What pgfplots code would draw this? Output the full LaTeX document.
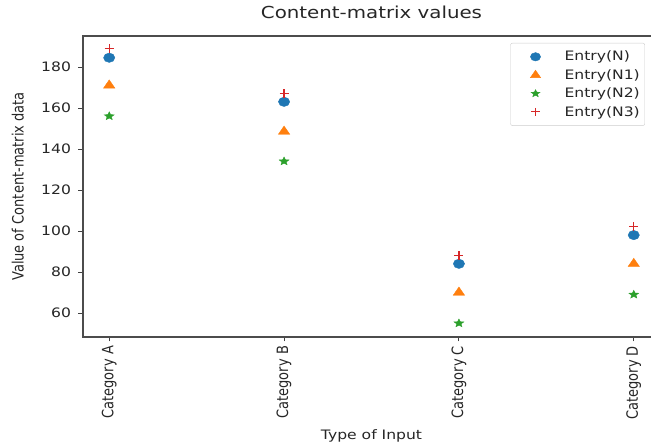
\documentclass[border=0pt]{standalone}
\usepackage{pgfplots}
\pgfplotsset{compat=1.18}
\usepackage{graphicx}
\usepackage{fontspec}
\setmainfont{DejaVu Sans}
\definecolor{tabblue}{HTML}{1F77B4}
\definecolor{taborange}{HTML}{FF7F0E}
\definecolor{tabgreen}{HTML}{2CA02C}
\definecolor{tabred}{HTML}{D62728}
\newcommand\wide[1]{\scalebox{1.2}[1]{#1}}
\newcommand\tall[1]{\scalebox{1}[1.2]{#1}}
\pgfdeclareplotmark{fstar}{%
  \pgfpathmoveto{\pgfpointpolar{90}{\pgfplotmarksize}}%
  \pgfpathlineto{\pgfpointpolar{126}{0.45\pgfplotmarksize}}%
  \pgfpathlineto{\pgfpointpolar{162}{\pgfplotmarksize}}%
  \pgfpathlineto{\pgfpointpolar{198}{0.45\pgfplotmarksize}}%
  \pgfpathlineto{\pgfpointpolar{234}{\pgfplotmarksize}}%
  \pgfpathlineto{\pgfpointpolar{270}{0.45\pgfplotmarksize}}%
  \pgfpathlineto{\pgfpointpolar{306}{\pgfplotmarksize}}%
  \pgfpathlineto{\pgfpointpolar{342}{0.45\pgfplotmarksize}}%
  \pgfpathlineto{\pgfpointpolar{18}{\pgfplotmarksize}}%
  \pgfpathlineto{\pgfpointpolar{54}{0.45\pgfplotmarksize}}%
  \pgfpathclose
  \pgfusepathqfillstroke
}
\pgfplotstableread{
x N N1 N2 N3
0 184.5 171 156 189
1 163 148.5 134 167
2 84 70 55 88
3 98 84 69 102
}\datatable
\begin{document}
\begin{tikzpicture}
\begin{axis}[
  at={(83pt,110pt)}, anchor=south west,
  scale only axis, width=577pt, height=301pt,
  xmin=-0.15, xmax=3.15, ymin=48.3, ymax=195.1,
  xtick={0,1,2,3},
  xticklabels={\tall{Category A}, \tall{Category B}, \tall{Category C}, \tall{Category D}},
  ytick={60,80,100,120,140,160,180},
  yticklabel={\wide{\pgfmathprintnumber{\tick}}},
  tick align=outside, xtick pos=bottom, ytick pos=left,
  major tick length=4.5pt,
  every tick/.style={black!75, line width=0.9pt},
  axis line style={black!70, line width=1.1pt},
  /pgf/number format/assume math mode=true,
  tick label style={font=\fontsize{13}{15}\selectfont, text=black!85},
  xticklabel style={rotate=90, anchor=east, xshift=-1pt},
  yticklabel style={xshift=-4pt},
  title={\wide{Content-matrix values}},
  title style={font=\fontsize{16.5}{19}\selectfont, text=black!85, at={(axis description cs:0.5,1.06)}, anchor=center},
  xlabel={\wide{Type of Input}},
  ylabel={\tall{Value of Content-matrix data}},
  every axis x label/.style={at={(axis description cs:0.5,-0.328)}, anchor=center, font=\fontsize{13}{15}\selectfont, text=black!85},
  every axis y label/.style={at={(axis description cs:-0.113,0.5)}, rotate=90, anchor=center, font=\fontsize{13}{15}\selectfont, text=black!85},
  legend style={at={(axis description cs:0.974,0.977)}, anchor=north east,
    font=\fontsize{13}{15}\selectfont, text=black!85, draw=black!20, rounded corners=2pt,
    row sep=3pt, inner xsep=3pt, inner ysep=6pt},
  legend cell align=left,
  legend image code/.code={\path[draw=none,fill=none] (-15pt,0pt) -- (34pt,0pt); \draw[#1, mark size=0.9\pgfplotmarksize] plot[only marks] coordinates {(7pt,0pt)};},
]
\addplot[only marks, mark=*, mark size=4.7pt, color=tabblue, mark options={xscale=1.2}] table[x=x, y=N] {\datatable};
\addlegendentry{\wide{Entry(N)}}
\addplot[only marks, mark=triangle*, mark size=5.5pt, color=taborange, mark options={xscale=1.2}] table[x=x, y=N1] {\datatable};
\addlegendentry{\wide{Entry(N1)}}
\addplot[only marks, mark=fstar, mark size=4.3pt, color=tabgreen, mark options={xscale=1.2}] table[x=x, y=N2] {\datatable};
\addlegendentry{\wide{Entry(N2)}}
\addplot[only marks, mark=+, mark size=4.5pt, line width=1.2pt, color=tabred] table[x=x, y=N3] {\datatable};
\addlegendentry{\wide{Entry(N3)}}
\end{axis}
\pgfresetboundingbox
\useasboundingbox (0,0) rectangle (651pt,447pt);
\end{tikzpicture}
\end{document}
